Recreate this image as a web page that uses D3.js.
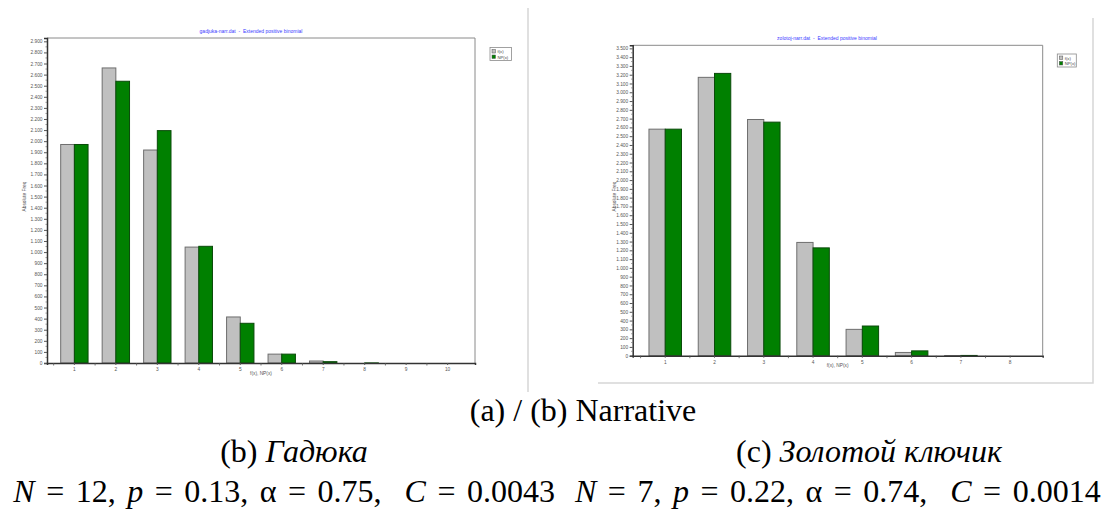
<!DOCTYPE html>
<html><head><meta charset="utf-8">
<script src="https://cdn.jsdelivr.net/npm/d3@7"></script>
<style>body{margin:0;background:#fff;} svg{display:block;}</style>
</head><body>
<svg id="c" width="1114" height="510"></svg>
<script>
// ---- data ----
const leftCategories = [1, 2, 3, 4, 5, 6, 7, 8, 9, 10];
const leftFx  = [1970, 2660, 1920, 1045, 415, 80, 18, 0, 0, 0];
const leftNPx = [1970, 2540, 2095, 1052, 358, 80, 12, 1, 0, 0];
const leftTitle = "gadjuka-narr.dat  -  Extended positive binomial";
const leftYTicks = [0,100,200,300,400,500,600,700,800,900,1000,1100,1200,1300,1400,1500,1600,1700,1800,1900,2000,2100,2200,2300,2400,2500,2600,2700,2800,2900];

const rightCategories = [1, 2, 3, 4, 5, 6, 7, 8];
const rightFx  = [2580, 3170, 2690, 1290, 300, 37, 2, 0];
const rightNPx = [2580, 3215, 2660, 1228, 338, 55, 3, 0];
const rightTitle = "zolotoj-narr.dat  -  Extended positive binomial";
const rightYTicks = [0,100,200,300,400,500,600,700,800,900,1000,1100,1200,1300,1400,1500,1600,1700,1800,1900,2000,2100,2200,2300,2400,2500,2600,2700,2800,2900,3000,3100,3200,3300,3400,3500];

const seriesNames = ["f(x)", "NP(x)"];
const yAxisLabel = "Absolute Freq";
const xAxisLabel = "f(x), NP(x)";

const svg = d3.select("#c");
const loc = d3.formatLocale({decimal: ",", thousands: ".", grouping: [3], currency: ["", ""]});
const fmt = loc.format(",");
const sans = "Arial, Liberation Sans, sans-serif";

function chart(o) {
  const g = svg.append("g");
  const x = d3.scaleBand().domain(o.cats).range([o.x0, o.x1]).paddingInner(0).paddingOuter(0.16);
  const y = d3.scaleLinear().domain([0, o.ymax]).range([o.y1, o.y0]);
  const bw = x.step() * 0.33;

  // plot border (top/right)
  g.append("path").attr("d", `M${o.x0},${o.y0}H${o.x1}V${o.y1}`)
    .attr("fill", "none").attr("stroke", "#8a8a8a").attr("stroke-width", 1);

  // title
  g.append("text").attr("x", o.titleX).attr("y", o.y0 - 5).attr("text-anchor", "middle")
    .attr("font-family", sans).attr("font-size", 5).attr("fill", "#3a3aff")
    .style("white-space", "pre").text(o.title);

  // bars
  const data = o.cats.map((c, i) => ({c, a: o.fx[i], b: o.np[i]}));
  const cx = c => x(c) + x.bandwidth() / 2;
  g.selectAll(".ga").data(data).join("rect")
    .attr("x", d => cx(d.c) - bw).attr("width", bw)
    .attr("y", d => y(d.a)).attr("height", d => y(0) - y(d.a))
    .attr("fill", "#c0c0c0").attr("stroke", "#6e6e6e").attr("stroke-width", 1);
  g.selectAll(".gb").data(data).join("rect")
    .attr("x", d => cx(d.c)).attr("width", bw)
    .attr("y", d => y(d.b)).attr("height", d => y(0) - y(d.b))
    .attr("fill", "#008000").attr("stroke", "#0a4a0a").attr("stroke-width", 1);

  // y axis
  const ya = g.append("g").attr("transform", `translate(${o.x0},0)`)
    .call(d3.axisLeft(y).tickValues(o.yticks).tickFormat(fmt).tickSize(3).tickPadding(1.5));
  ya.select(".domain").attr("stroke", "#333").attr("stroke-width", 1.5);
  ya.selectAll(".tick line").attr("stroke", "#555");
  ya.selectAll("text").attr("font-family", sans).attr("font-size", 4.8).attr("fill", "#555");
  // minor y ticks
  g.append("g").selectAll("line").data(o.yticks.slice(0, -1)).join("line")
    .attr("x1", o.x0 - 1.5).attr("x2", o.x0).attr("y1", d => y(d + 50)).attr("y2", d => y(d + 50))
    .attr("stroke", "#777").attr("stroke-width", 0.8);

  // x axis
  const xa = g.append("g").attr("transform", `translate(0,${o.y1})`)
    .call(d3.axisBottom(x).tickSize(2).tickPadding(3));
  xa.select(".domain").attr("stroke", "#333").attr("stroke-width", 1.5);
  xa.selectAll(".tick line").attr("stroke", "#555");
  xa.selectAll("text").attr("font-family", sans).attr("font-size", 4.8).attr("fill", "#555");
  // boundary ticks
  g.append("g").selectAll("line").data(o.cats).join("line")
    .attr("x1", d => x(d)).attr("x2", d => x(d)).attr("y1", o.y1).attr("y2", o.y1 + 2.5)
    .attr("stroke", "#555").attr("stroke-width", 0.8);

  // axis labels
  g.append("text").attr("x", (o.x0 + o.x1) / 2).attr("y", o.y1 + o.xlabDy).attr("text-anchor", "middle")
    .attr("font-family", sans).attr("font-size", 4.8).attr("fill", "#555").text(xAxisLabel);
  g.append("text").attr("transform", `translate(${o.ylabX},${(o.y0 + o.y1) / 2 - 4}) rotate(-90)`).attr("text-anchor", "middle")
    .attr("font-family", sans).attr("font-size", 4.8).attr("fill", "#555").text(yAxisLabel);

  // legend
  const lg = g.append("g").attr("transform", `translate(${o.legX},${o.legY})`);
  lg.append("rect").attr("width", o.legW).attr("height", 13).attr("fill", "#fff").attr("stroke", "#8a8a8a").attr("stroke-width", 0.8);
  const cols = ["#c0c0c0", "#008000"];
  seriesNames.forEach((s, i) => {
    lg.append("rect").attr("x", 2).attr("y", 2 + i * 5.5).attr("width", 3.5).attr("height", 3.5)
      .attr("fill", cols[i]).attr("stroke", "#555").attr("stroke-width", 0.5);
    lg.append("text").attr("x", 7.5).attr("y", 5.5 + i * 5.5).attr("font-family", sans)
      .attr("font-size", 4.2).attr("fill", "#444").text(s);
  });
}

chart({cats: leftCategories, fx: leftFx, np: leftNPx, yticks: leftYTicks, ymax: 2930,
  x0: 47, x1: 475, y0: 38, y1: 363, title: leftTitle, titleX: 251, xlabDy: 11.5, ylabX: 26,
  legX: 490, legY: 47.5, legW: 21.5});
// frame edges of the two chart images
svg.append("line").attr("x1", 528).attr("x2", 528).attr("y1", 8).attr("y2", 392).attr("stroke", "#d6d6d6").attr("stroke-width", 1.5);

chart({cats: rightCategories, fx: rightFx, np: rightNPx, yticks: rightYTicks, ymax: 3535,
  x0: 632.7, x1: 1042.7, y0: 45.3, y1: 355.7, title: rightTitle, titleX: 827, xlabDy: 11, ylabX: 616,
  legX: 1057.3, legY: 54, legW: 19});
svg.append("path").attr("d", "M598,383H1093V18").attr("fill", "none").attr("stroke", "#d6d6d6").attr("stroke-width", 1.5);

// captions
const serif = "Liberation Serif, Times New Roman, serif";
function caption(xp, yp, anchor, parts, ws) {
  const t = svg.append("text").attr("x", xp).attr("y", yp).attr("text-anchor", anchor)
    .attr("font-family", serif).attr("font-size", 32).attr("fill", "#000")
    .style("white-space", "pre").attr("word-spacing", ws || 0);
  parts.forEach(p => t.append("tspan").attr("font-style", p[1] ? "italic" : "normal").text(p[0]));
}
caption(583, 421, "middle", [["(a) / (b) Narrative", false]]);
caption(294, 462, "middle", [["(b) ", false], ["Гадюка", true]]);
caption(869, 462, "middle", [["(c) ", false], ["Золотой ключик", true]]);
caption(555, 502, "end", [["N", true], [" = 12, ", false], ["p", true], [" = 0.13, α = 0.75,  ", false], ["C", true], [" = 0.0043", false]], 3.5);
caption(575, 502, "start", [["N", true], [" = 7, ", false], ["p", true], [" = 0.22, α = 0.74,  ", false], ["C", true], [" = 0.0014", false]], 3.5);
</script>
</body></html>
